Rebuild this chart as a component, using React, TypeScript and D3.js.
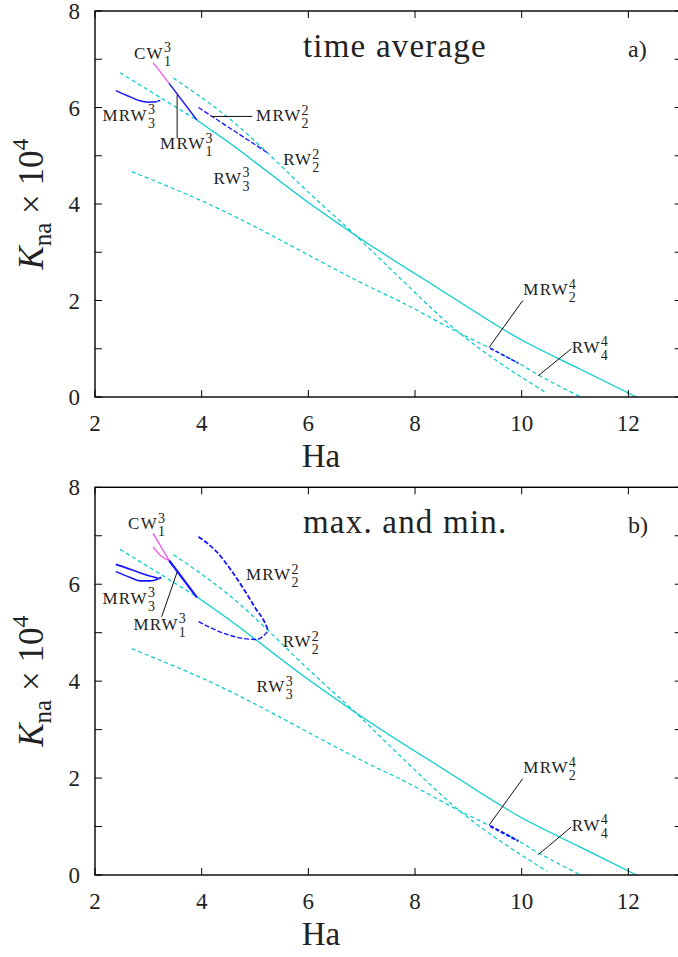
import React from 'react';
import * as d3 from 'd3';

// axis ticks
const xTicks = [2, 4, 6, 8, 10, 12];
const yTicks = [0, 1, 2, 3, 4, 5, 6, 7, 8];
const yTickLabels = [0, 2, 4, 6, 8];

// branches common to both panels (Ha, Kna*1e4)
const rwMainUnstable = [[2.47, 6.72], [3.91, 5.74]];
const rwMainStable = [[3.91, 5.74], [4.44, 5.33], [5.94, 4.08], [6.875, 3.36], [7.34, 3.02], [8.47, 2.23], [10.0, 1.18], [11.09, 0.58], [12.15, 0.0]];
const rw22 = [[3.47, 6.61], [4.44, 5.84], [6.16, 4.08], [6.875, 3.36], [7.72, 2.46], [8.7, 1.45], [10.47, 0.08]];
const rw33 = [[2.69, 4.67], [3.97, 4.08], [7.34, 2.18], [7.72, 1.98], [8.84, 1.32], [9.41, 1.01], [9.94, 0.7], [10.31, 0.46], [11.09, 0.01]];
const mrw24 = [[9.41, 1.01], [9.94, 0.7]];

// a) time average
const cw13Avg = [[3.09, 6.93], [3.39, 6.5]];
const mrw13Avg = [[3.39, 6.5], [3.91, 5.74]];
const mrw33Avg = [[2.39, 6.35], [2.66, 6.22], [2.84, 6.14], [3.0, 6.11], [3.16, 6.12]];
const mrw33AvgTail = [[3.17, 6.13], [3.26, 6.16]];
const mrw22Avg = [[3.94, 6.0], [5.25, 5.05]];

// b) max and min
const cw13Max = [[3.09, 7.05], [3.39, 6.49]];
const cw13Min = [[3.09, 6.77], [3.25, 6.57], [3.39, 6.49]];
const mrw13Ext = [[3.39, 6.49], [3.91, 5.73]];
const mrw33Max = [[2.39, 6.41], [2.66, 6.31], [2.91, 6.21], [3.19, 6.12]];
const mrw33Min = [[2.39, 6.26], [2.66, 6.14], [2.84, 6.07], [3.03, 6.07], [3.19, 6.11]];
const mrw33Dot = [[3.2, 6.12], [3.24, 6.14]];
const mrw22Max = [[3.94, 6.98], [4.28, 6.67], [4.59, 6.23], [4.84, 5.81], [5.03, 5.47], [5.16, 5.26], [5.25, 5.04]];
const mrw22Min = [[3.94, 5.23], [4.41, 4.99], [4.78, 4.88], [5.03, 4.86], [5.25, 5.04]];

// labels: [name, sub, sup, Ha, K] (left, baseline)
const labelsAvg = [
  ['CW', '1', '3', 2.73, 7.01],
  ['MRW', '3', '3', 2.14, 5.73],
  ['MRW', '1', '3', 3.22, 5.13],
  ['MRW', '2', '2', 5.02, 5.71],
  ['RW', '2', '2', 5.53, 4.8],
  ['RW', '3', '3', 4.22, 4.42],
  ['MRW', '2', '4', 10.03, 2.11],
  ['RW', '4', '4', 10.94, 0.92],
];
const labelsExt = [
  ['CW', '1', '3', 2.62, 7.13],
  ['MRW', '3', '3', 2.14, 5.6],
  ['MRW', '1', '3', 2.72, 5.06],
  ['MRW', '2', '2', 4.83, 6.08],
  ['RW', '2', '2', 5.52, 4.7],
  ['RW', '3', '3', 5.03, 3.77],
  ['MRW', '2', '4', 10.03, 2.1],
  ['RW', '4', '4', 10.94, 0.91],
];
// leader lines [x1, y1, x2, y2]
const leadersAvg = [
  [3.54, 6.26, 3.54, 5.37],
  [4.19, 5.815, 4.95, 5.815],
  [9.39, 1.03, 10.02, 2.0],
  [10.31, 0.44, 10.93, 1.0],
];
const leadersExt = [
  [3.54, 6.25, 3.25, 5.33],
  [9.39, 1.03, 10.02, 1.99],
  [10.31, 0.42, 10.93, 0.99],
];

const CYAN = '#00cccc';
const BLUE = '#1414ff';
const MAGENTA = '#f050f0';
const FONT = "'Liberation Serif', 'DejaVu Serif', serif";

function Label({ x, y, name, sub, sup }) {
  return (
    <text x={x} y={y} fontFamily={FONT} fill="#222">
      <tspan fontSize={17} letterSpacing={1.3}>{name}</tspan>
      <tspan fontSize={14} dy={-6.5}>{sup}</tspan>
      <tspan fontSize={14} dx={-7} dy={13.5}>{sub}</tspan>
    </text>
  );
}

function Panel({ top, bottom, title, tag, ext }) {
  const x = d3.scaleLinear().domain([2, 13]).range([95, 681.7]);
  const y = d3.scaleLinear().domain([0, 8]).range([bottom, top]);
  const line = d3.line().x(d => x(d[0])).y(d => y(d[1])).curve(d3.curveMonotoneX);
  const path = (data, stroke, width, dash) => (
    <path d={line(data)} fill="none" stroke={stroke} strokeWidth={width} strokeDasharray={dash} />
  );
  const labels = ext ? labelsExt : labelsAvg;
  const leaders = ext ? leadersExt : leadersAvg;
  const midY = (top + bottom) / 2;
  return (
    <g>
      {/* cyan RW branches */}
      {path(rwMainUnstable, CYAN, 1.2, '4,3')}
      {path(rwMainStable, CYAN, 1.2)}
      {path(rw22, CYAN, 1.2, '4,3')}
      {path(rw33, CYAN, 1.2, '4,3')}
      {ext ? (
        <g>
          {path(cw13Max, MAGENTA, 1.3)}
          {path(cw13Min, MAGENTA, 1.3)}
          {path(mrw13Ext, BLUE, 2.2)}
          {path(mrw33Max, BLUE, 1.6)}
          {path(mrw33Min, BLUE, 1.6)}
          {path(mrw33Dot, BLUE, 2.2)}
          {path(mrw22Max, BLUE, 1.8, '5,2')}
          {path(mrw22Min, BLUE, 1.4, '5,2')}
          {path(mrw24, BLUE, 2.2, '4,2')}
        </g>
      ) : (
        <g>
          {path(cw13Avg, MAGENTA, 1.2)}
          {path(mrw13Avg, BLUE, 1.4)}
          {path(mrw33Avg, BLUE, 1.4)}
          {path(mrw33AvgTail, BLUE, 1.4, '3,2')}
          {path(mrw22Avg, BLUE, 1.3, '5,2')}
          {path(mrw24, BLUE, 1.5, '4,2')}
        </g>
      )}
      {leaders.map((l, i) => (
        <line key={i} x1={x(l[0])} y1={y(l[1])} x2={x(l[2])} y2={y(l[3])} stroke="#111" strokeWidth={1} />
      ))}
      {labels.map((l, i) => (
        <Label key={i} x={x(l[3])} y={y(l[4])} name={l[0]} sub={l[1]} sup={l[2]} />
      ))}
      {/* frame */}
      <rect x={x(2)} y={top} width={x(13) - x(2)} height={bottom - top} fill="none" stroke="#000" strokeWidth={1.4} />
      {xTicks.map(t => (
        <g key={'x' + t}>
          <line x1={x(t)} x2={x(t)} y1={bottom} y2={bottom - 7} stroke="#000" strokeWidth={1} />
          <line x1={x(t)} x2={x(t)} y1={top} y2={top + 7} stroke="#000" strokeWidth={1} />
          <text x={x(t)} y={bottom + 34} textAnchor="middle" fontFamily={FONT} fontSize={23} fill="#222">{t}</text>
        </g>
      ))}
      {yTicks.map(t => (
        <g key={'y' + t}>
          <line x1={x(2)} x2={x(2) + 7} y1={y(t)} y2={y(t)} stroke="#000" strokeWidth={1} />
          <line x1={x(13)} x2={x(13) - 7} y1={y(t)} y2={y(t)} stroke="#000" strokeWidth={1} />
        </g>
      ))}
      {yTickLabels.map(t => (
        <text key={'yl' + t} x={80} y={y(t) + 8} textAnchor="end" fontFamily={FONT} fontSize={23} fill="#222">{t}</text>
      ))}
      <text x={303} y={top + 46} fontFamily={FONT} fontSize={33} letterSpacing={1.2} fill="#222">{title}</text>
      <text x={628} y={top + 46} fontFamily={FONT} fontSize={24} fill="#222">{tag}</text>
      <text x={321} y={bottom + 70} textAnchor="middle" fontFamily={FONT} fontSize={33} fill="#222">Ha</text>
      <text transform={`translate(43,${midY}) rotate(-90)`} textAnchor="middle" fontFamily={FONT} fill="#222">
        <tspan fontSize={35} fontStyle="italic">K</tspan>
        <tspan fontSize={25} dy={8}>na</tspan>
        <tspan fontSize={35} dy={-8}> × 10</tspan>
        <tspan fontSize={24} dy={-15}>4</tspan>
      </text>
    </g>
  );
}

export default function App() {
  return (
    <svg width={678} height={957} style={{ position: 'absolute', left: 0, top: 0, background: '#fff' }}>
      <rect width={678} height={957} fill="#fff" />
      <Panel top={11} bottom={397} title="time average" tag="a)" ext={false} />
      <Panel top={487.3} bottom={875} title="max. and min." tag="b)" ext={true} />
    </svg>
  );
}
